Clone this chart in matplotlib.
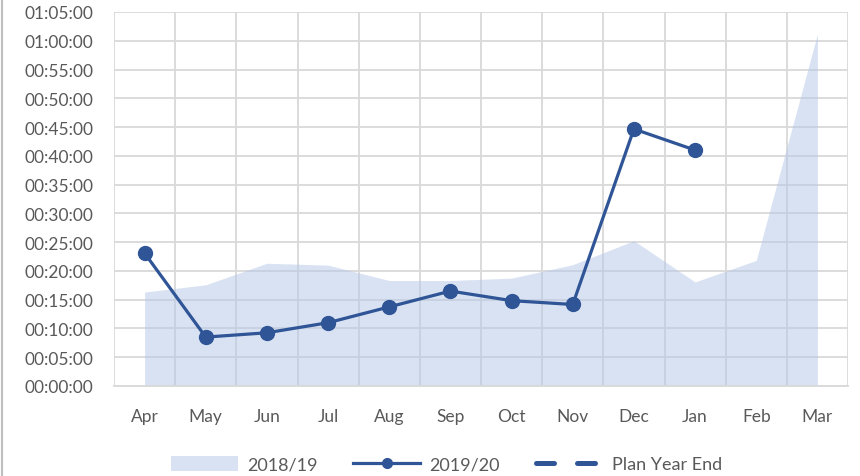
import matplotlib.pyplot as plt
from matplotlib.ticker import FuncFormatter, MultipleLocator, FixedLocator
from matplotlib.lines import Line2D
from matplotlib.patches import Patch
import numpy as np

months = ['Apr', 'May', 'Jun', 'Jul', 'Aug', 'Sep', 'Oct', 'Nov', 'Dec', 'Jan', 'Feb', 'Mar']
# average times as hh:mm:ss
times_1819 = ['00:16:20', '00:17:35', '00:21:20', '00:21:00', '00:18:20', '00:18:20',
              '00:18:45', '00:21:05', '00:25:15', '00:18:05', '00:21:50', '01:01:10']
times_1920 = ['00:23:05', '00:08:30', '00:09:15', '00:11:00', '00:13:45', '00:16:30',
              '00:14:50', '00:14:10', '00:44:40', '00:41:00']
plan_year_end = []


def to_sec(s):
    h, m, sec = s.split(':')
    return int(h) * 3600 + int(m) * 60 + int(sec)


def fmt(v, pos):
    v = int(round(v))
    return '%02d:%02d:%02d' % (v // 3600, (v % 3600) // 60, v % 60)


plt.rcParams['font.family'] = ['Lato', 'DejaVu Sans']
grey = '#595959'
blue = '#2F5597'
area_col = '#B4C7E7'

fig = plt.figure(figsize=(8.6, 4.77), dpi=100)
ax = fig.add_axes([114 / 860, 90 / 477, 734 / 860, 374 / 477])

x = np.arange(len(months))
y1 = [to_sec(t) for t in times_1819]
y2 = [to_sec(t) for t in times_1920]

ax.fill_between(x, 0, y1, color=area_col, alpha=0.5, lw=0, zorder=2)
ax.plot(x[:len(y2)], y2, color=blue, lw=2.3, marker='o', ms=10, zorder=3)
if plan_year_end:
    ax.plot(x[:len(plan_year_end)], [to_sec(t) for t in plan_year_end],
            color=blue, lw=3.6, ls=(0, (3.6, 4.6)), dash_capstyle='round')

ax.set_xlim(-0.5, 11.5)
ax.set_ylim(0, 65 * 60)
ax.yaxis.set_major_locator(MultipleLocator(300))
ax.yaxis.set_major_formatter(FuncFormatter(fmt))
ax.set_xticks(x)
ax.set_xticklabels(months)
ax.xaxis.set_minor_locator(FixedLocator(np.arange(-0.5, 12, 1)))

ax.grid(axis='y', which='major', color='#D9D9D9', lw=1.3, zorder=1)
ax.grid(axis='x', which='minor', color='#D9D9D9', lw=1.3, zorder=1)
ax.set_axisbelow(True)
for s in ['top', 'right', 'left']:
    ax.spines[s].set_visible(False)
ax.spines['bottom'].set_color('#D9D9D9')
ax.spines['bottom'].set_linewidth(1.3)

ax.tick_params(axis='both', which='both', length=0, labelsize=12.5, colors=grey)
ax.tick_params(axis='y', pad=15)
ax.tick_params(axis='x', pad=16)

handles = [
    Patch(facecolor=area_col, alpha=0.5, lw=0),
    Line2D([], [], color=blue, lw=2.3, marker='o', ms=7),
    Line2D([], [], color=blue, lw=3.6, ls=(0, (3.6, 4.6)), dash_capstyle='round'),
]
labels = ['2018/19', '2019/20', 'Plan Year End']
fig.legend(handles, labels, loc='center', bbox_to_anchor=(0.519, 12 / 477), ncol=3,
           frameon=False, fontsize=13, labelcolor=grey, handlelength=3.7,
           handleheight=0.9, columnspacing=2.0, handletextpad=0.5)

fig.add_artist(Line2D([2 / 860, 2 / 860], [0, 1], color='#BFBFBF', lw=1.5))

fig.savefig('out.png', dpi=100)
